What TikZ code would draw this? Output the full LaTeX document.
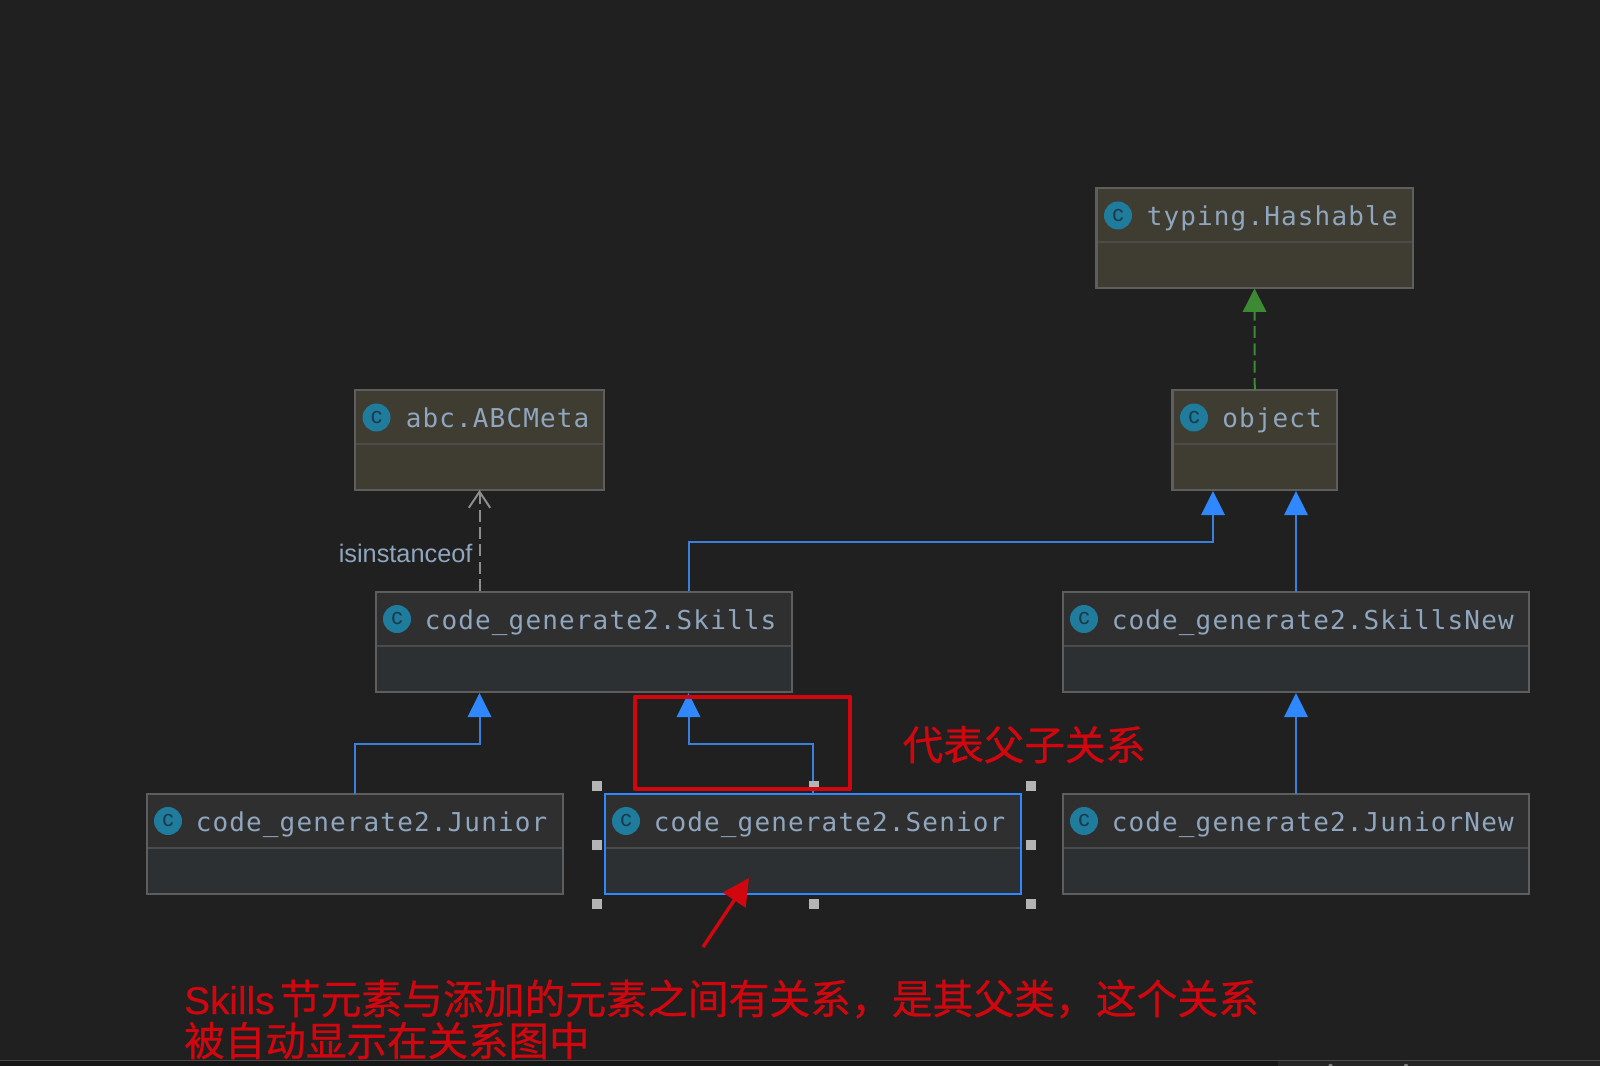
\documentclass[tikz,border=0pt]{standalone}
\usepackage{fontspec}
\usetikzlibrary{arrows.meta}
\newfontfamily\monof[LetterSpace=4.4]{DejaVu Sans Mono}
\newfontfamily\cjkf[FakeBold=0.6]{Noto Sans CJK SC}
\newfontfamily\labf{Liberation Sans}
\newfontfamily\redlat[FakeBold=0.4]{Liberation Sans}
\definecolor{bgc}{HTML}{202020}
\definecolor{topfill}{HTML}{3F3C31}
\definecolor{headfill}{HTML}{2F2F2F}
\definecolor{bodyfill}{HTML}{2D3033}
\definecolor{edgec}{HTML}{5E5E5E}
\definecolor{divc}{HTML}{4B4B49}
\definecolor{txtc}{HTML}{8FA6BE}
\definecolor{iconc}{HTML}{1F7C9C}
\definecolor{iconl}{HTML}{1B3B4C}
\definecolor{redc}{HTML}{D0070F}
\definecolor{linec}{HTML}{3A7FDB}
\definecolor{tipc}{HTML}{3088FF}
\definecolor{greenc}{HTML}{3C8A34}
\definecolor{dashc}{HTML}{8E8E8E}
\definecolor{handc}{HTML}{B4B4B4}
\definecolor{stripl}{HTML}{171717}
\definecolor{stripr}{HTML}{252525}
\tikzset{
  classbox/.style={draw=edgec,line width=1.6pt,anchor=north west,inner sep=0pt,outer sep=0pt},
  classname/.style={anchor=base west,inner sep=0pt,text=txtc,font=\monof\fontsize{19.5}{20}\selectfont},
  iconball/.style={circle,fill=iconc,minimum size=21pt,inner sep=0pt,text=iconl,font=\labf\fontsize{17}{17}\selectfont},
  genarrow/.style={draw=linec,line width=1.5pt,-{Triangle[length=18pt,width=17.5pt,fill=tipc,color=tipc]}},
  implarrow/.style={draw=greenc,line width=1.5pt,dash pattern=on 9pt off 4pt,-{Triangle[length=17.5pt,width=17.5pt,fill=greenc,color=greenc]}},
  usearrow/.style={draw=dashc,line width=1.5pt,dash pattern=on 9pt off 4pt,-{Straight Barb[length=12pt,width=16pt,line width=1.5pt]}},
  handlebox/.style={fill=handc,minimum size=7.5pt,inner sep=0pt},
  redtext/.style={anchor=base west,inner sep=0pt,text=redc,font=\cjkf\fontsize{30.4}{32}\selectfont},
}
% name, x1, y1, x2, y2, text, text x, baseline
\newcommand{\topclass}[8]{%
  \node[classbox,fill=topfill,minimum width=#4*0.75pt-#2*0.75pt,minimum height=#5*0.75pt-#3*0.75pt] (#1) at (#2,#3) {};
  \draw[divc,line width=1.4pt] (#2+1,#3+54) -- (#4-1,#3+54);
  \node[iconball] (#1icon) at (#2+21.5,#3+27.5) {c};
  \node[classname] (#1name) at (#7,#8) {#6};
}
\newcommand{\lowclass}[9]{%
  \node[classbox,fill=bodyfill,minimum width=#4*0.75pt-#2*0.75pt,minimum height=#5*0.75pt-#3*0.75pt,draw=#9] (#1) at (#2,#3) {};
  \fill[headfill] (#2+1,#3+1) rectangle (#4-1,#3+54);
  \draw[divc,line width=1.4pt] (#2+1,#3+54) -- (#4-1,#3+54);
  \node[iconball] (#1icon) at (#2+21,#3+27) {c};
  \node[classname] (#1name) at (#7,#8) {#6};
}
\begin{document}
\begin{tikzpicture}[x=0.75pt,y=-0.75pt]
\fill[bgc] (0,0) rectangle (1600,1066);
\useasboundingbox (0,0) rectangle (1600,1066);
% bottom strip
\fill[stripl] (0,1060.5) rectangle (1278,1066);
\fill[stripr] (1278,1060.5) rectangle (1600,1066);
\draw[divc,line width=0.6pt] (0,1060.5) -- (1600,1060.5);
\fill[gray] (1330.5,1066) circle (2.2);
\fill[gray] (1406,1066) circle (2.2);
% class boxes
\topclass{hashable}{1096.5}{188}{1413}{288}{typing.Hashable}{1146.5}{225.5}
\topclass{object}{1172.5}{390}{1337}{490}{object}{1222}{427.5}
\topclass{abcmeta}{355}{390}{604}{490}{abc.ABCMeta}{405.5}{427.5}
\lowclass{skills}{376}{592}{792}{692}{code\_generate2.Skills}{424.5}{629.5}{edgec}
\lowclass{skillsnew}{1063}{592}{1529}{692}{code\_generate2.SkillsNew}{1111.5}{629.5}{edgec}
\lowclass{junior}{147}{794}{563}{894}{code\_generate2.Junior}{195.5}{831.5}{edgec}
\lowclass{senior}{605}{794}{1021}{894}{code\_generate2.Senior}{653.5}{831.5}{tipc}
\lowclass{juniornew}{1063}{794}{1529}{894}{code\_generate2.JuniorNew}{1111.5}{831.5}{edgec}
% connector ends on the box edges
\coordinate (hashin) at (1254.5,288.5);
\coordinate (objin) at (1213,491);
\coordinate (objinb) at (1296,491);
\coordinate (abcin) at (479.5,490);
\coordinate (skinj) at (479.5,693);
\coordinate (skins) at (688.5,693);
\coordinate (sknin) at (1296,693);
\coordinate (skoutm) at (479.5,591);
\coordinate (skouto) at (688.5,591);
% connectors
\draw[implarrow] (object.north) -- (hashin);
\draw[usearrow] (skoutm) -- (abcin);
\draw[genarrow] (skouto) |- (1213,541.5) -- (objin);
\draw[genarrow] (skillsnew.north) -- (objinb);
\draw[genarrow] (junior.north) |- (479.5,743.5) -- (skinj);
\draw[genarrow] (senior.north) |- (688.5,743.5) -- (skins);
\draw[genarrow] (juniornew.north) -- (sknin);
\node[anchor=base west,inner sep=0pt,text=txtc,font=\labf\fontsize{19}{20}\selectfont] (instlabel) at (338.5,562) {isinstanceof};
% selection handles
\foreach \hx/\hy/\hn in {597/786/a,814/786/b,1031/786/c,597/845/d,1031/845/e,597/904/f,814/904/g,1031/904/h}
  \node[handlebox] (hand\hn) at (\hx,\hy) {};
% red annotations
\node[draw=redc,line width=3.3pt,line join=round,anchor=north west,inner sep=0pt,minimum width=161pt,minimum height=69pt] (redbox) at (633,694.5) {};
\coordinate (redstart) at (703,947);
\coordinate (redtip) at (749,878);
\draw[draw=redc,line width=2.6pt,-{Triangle[length=20pt,width=20pt,fill=redc,color=redc]}] (redstart) -- (redtip);
\node[redtext] (note) at (902.5,760) {代表父子关系};
\node[redtext] (caption) at (184,1014) {{\redlat\fontsize{29}{32}\selectfont Skills}\hspace{4pt}{\fontsize{30.6}{32}\selectfont 节元素与添加的元素之间有关系，是其父类，这个关系}};
\node[redtext] (captionb) at (184,1056) {被自动显示在关系图中};
\end{tikzpicture}
\end{document}
